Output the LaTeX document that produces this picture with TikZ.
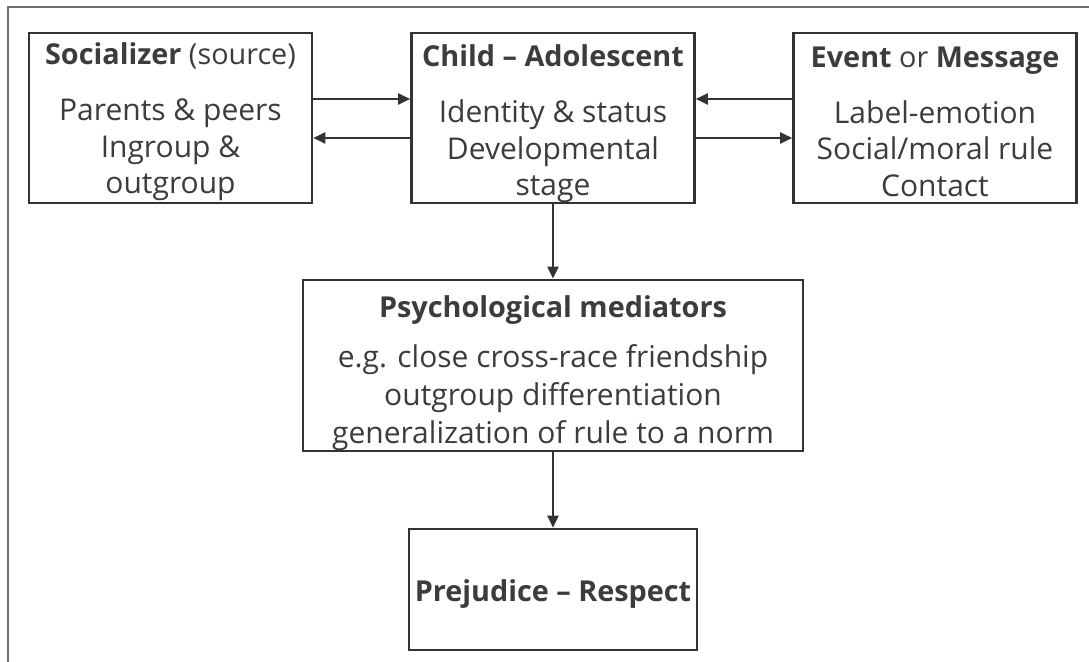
\documentclass[tikz,border=0pt]{standalone}
\usepackage{fontspec}
\setmainfont{Open Sans}
\usetikzlibrary{arrows.meta}
\definecolor{linegray}{HTML}{333333}
\definecolor{textgray}{HTML}{3C3C3C}
\definecolor{framegray}{HTML}{6E6E6E}
\newcommand{\headtext}[2][15pt]{{\fontsize{14.4}{18.3}\selectfont\rule{0pt}{#1}#2}}

\begin{document}
\begin{tikzpicture}[x=0.5pt, y=-0.5pt,
	box/.style={draw=linegray, line width=1.3pt, minimum width=141.5pt, minimum height=85pt, inner sep=0pt, align=center, text=textgray, font=\fontsize{15}{18.3}\selectfont},
	link/.style={draw=linegray, line width=1.1pt, -{Triangle[length=6pt,width=5.5pt]}},
	frame/.style={draw=framegray, line width=0.9pt}]
	\useasboundingbox (0,0) rectangle (1089,662);
	\draw[frame] (8,662) -- (8,7) -- (1089,7);
	\node[box] (socializer) at (170.5,118) {\headtext{\textbf{Socializer} (source)}\\[9.5pt]Parents \& peers\\Ingroup \&\\outgroup};
	\node[box] (child) at (553,118) {\headtext[17pt]{\textbf{Child -- Adolescent}}\\[9.5pt]Identity \& status\\Developmental\\stage};
	\node[box] (event) at (935,118) {\headtext[14pt]{\textbf{Event} or \textbf{Message}}\\[9.5pt]Label-emotion\\Social/moral rule\\Contact};
	\node[box, minimum width=250pt, minimum height=84.5pt, font=\fontsize{15}{19}\selectfont] (mediators) at (553,365.5) {\headtext[19pt]{\textbf{Psychological mediators}}\\[6pt]e.g. close cross-race friendship\\outgroup differentiation\\generalization of rule to a norm};
	\node[box, minimum width=144pt, minimum height=60.5pt] (prejudice) at (553,589.5) {\headtext{\textbf{Prejudice -- Respect}}};
	\draw[link] ([yshift=9.5pt]socializer.east) -- ([yshift=9.5pt]child.west);
	\draw[link] ([yshift=-10pt]child.west) -- ([yshift=-10pt]socializer.east);
	\draw[link] ([yshift=9.5pt]event.west) -- ([yshift=9.5pt]child.east);
	\draw[link] ([yshift=-10pt]child.east) -- ([yshift=-10pt]event.west);
	\draw[link] (child.south) -- (mediators.north);
	\draw[link] (mediators.south) -- (prejudice.north);
\end{tikzpicture}
\end{document}
